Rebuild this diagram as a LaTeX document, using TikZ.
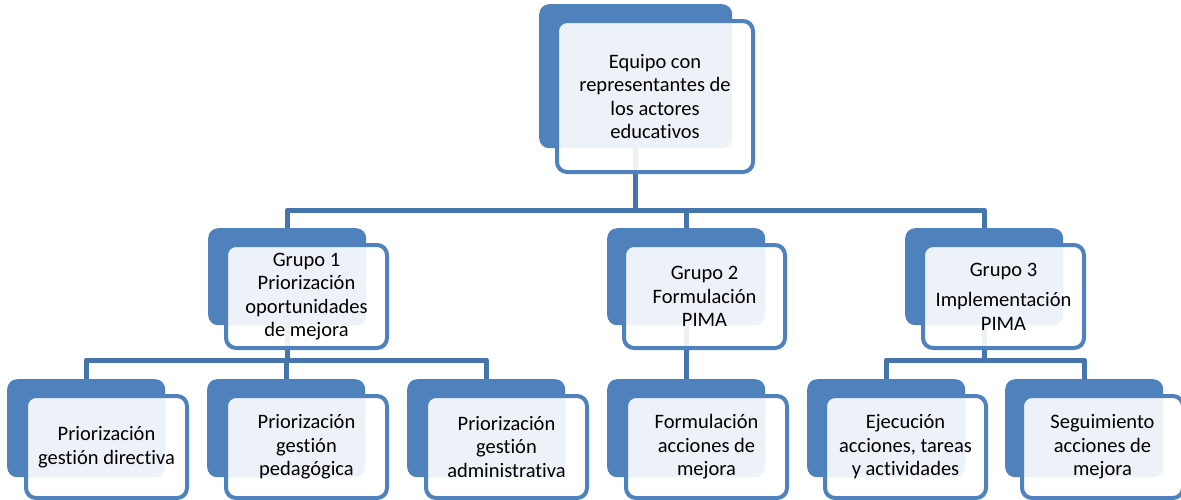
\documentclass[tikz,border=0pt]{standalone}
\usepackage{fontspec}
\setmainfont{Carlito}[Ligatures={NoCommon,TeX}]
\definecolor{accent}{RGB}{79,129,189}
\definecolor{connblue}{RGB}{70,116,173}
\begin{document}
\begin{tikzpicture}[x=1pt,y=-1pt,
  backbox/.style={fill=accent, rounded corners=10pt, inner sep=0pt, anchor=north west},
  frontbox/.style={draw=accent, line width=4pt, fill=white, fill opacity=0.9, text opacity=1,
    rounded corners=10pt, anchor=north west, align=center, inner sep=0pt,
    font=\fontsize{20.5}{23.5}\selectfont},
  link/.style={draw=connblue, line width=5pt, line join=round}]
\useasboundingbox (0,0) rectangle (1181,499);
\fill[white] (0,0) rectangle (1181,499);

% back boxes
\node[backbox, minimum width=193pt, minimum height=144pt] (topb) at (539,4) {};
\node[backbox, minimum width=158pt, minimum height=97pt] (g1b) at (208,228) {};
\node[backbox, minimum width=158pt, minimum height=97pt] (g2b) at (607,228) {};
\node[backbox, minimum width=158pt, minimum height=97pt] (g3b) at (905,228) {};
\node[backbox, minimum width=158pt, minimum height=98pt] (b1b) at (7,379) {};
\node[backbox, minimum width=158pt, minimum height=98pt] (b2b) at (207,379) {};
\node[backbox, minimum width=158pt, minimum height=98pt] (b3b) at (407,379) {};
\node[backbox, minimum width=158pt, minimum height=98pt] (b4b) at (607,379) {};
\node[backbox, minimum width=158pt, minimum height=98pt] (b5b) at (807,379) {};
\node[backbox, minimum width=158pt, minimum height=98pt] (b6b) at (1005,379) {};

% connectors
\coordinate (j0) at (636,210);
\coordinate (j1) at (0,360);
\draw[link] (topb.south) -- (topb.south |- j0);
\draw[link] (g1b.north) |- (j0 -| g3b.north) -- (g3b.north);
\draw[link] (g2b.north) -- (g2b.north |- j0);
\draw[link] (g1b.south) -- (g1b.south |- j1);
\draw[link] (b1b.north) |- (j1 -| b3b.north) -- (b3b.north);
\draw[link] (b2b.north) -- (b2b.north |- j1);
\draw[link] (g2b.south) -- (b4b.north);
\draw[link] (g3b.south) -- (g3b.south |- j1);
\draw[link] (b5b.north) |- (j1 -| b6b.north) -- (b6b.north);

% front boxes
\node[frontbox, minimum width=196pt, minimum height=151pt] (top) at (555,19)
  {Equipo con\\representantes de\\los actores\\educativos};
\node[frontbox, minimum width=161pt, minimum height=103pt] (g1) at (224,243)
  {Grupo 1\\Priorización\\oportunidades\\de mejora};
\node[frontbox, minimum width=161pt, minimum height=103pt] (g2) at (622,243)
  {Grupo 2\\Formulación\\PIMA};
\node[frontbox, minimum width=161pt, minimum height=103pt] (g3) at (921,243)
  {Grupo 3\\[7pt]Implementación\\PIMA};
\node[frontbox, minimum width=161pt, minimum height=102pt] (b1) at (24,394)
  {Priorización\\gestión directiva};
\node[frontbox, minimum width=161pt, minimum height=102pt] (b2) at (224,394)
  {Priorización\\gestión\\pedagógica};
\node[frontbox, minimum width=161pt, minimum height=102pt] (b3) at (424,394)
  {Priorización\\gestión\\administrativa};
\node[frontbox, minimum width=161pt, minimum height=102pt] (b4) at (624,394)
  {Formulación\\acciones de\\mejora};
\node[frontbox, minimum width=161pt, minimum height=102pt] (b5) at (823,394)
  {Ejecución\\acciones, tareas\\y actividades};
\node[frontbox, minimum width=161pt, minimum height=102pt] (b6) at (1020,394)
  {Seguimiento\\acciones de\\mejora};
\end{tikzpicture}
\end{document}
